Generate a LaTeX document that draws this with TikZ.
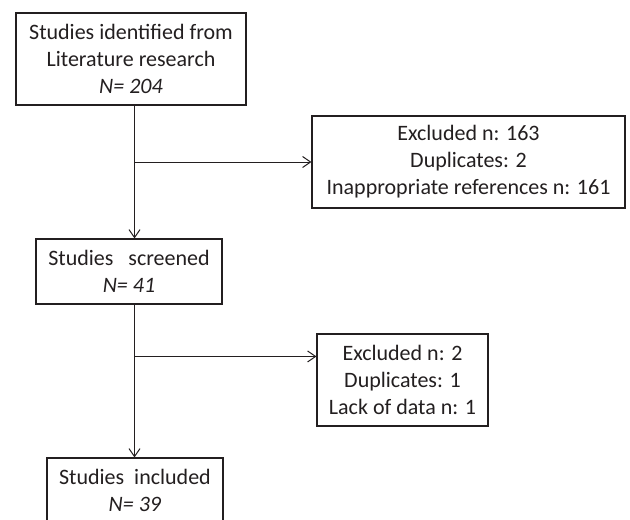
\documentclass[tikz,border=0pt]{standalone}
\usepackage{fontspec}
\setmainfont{Carlito}
\usetikzlibrary{arrows.meta,positioning,calc}
\definecolor{ink}{HTML}{231F20}
\tikzset{
  box/.style={draw=ink,line width=1.1pt,fill=white,align=center,text=ink,font=\fontsize{22}{27}\selectfont,inner sep=0pt},
  flow/.style={-{Straight Barb[length=8pt,width=11pt]},line width=1pt,draw=ink}
}

\begin{document}
\begin{tikzpicture}[x=1pt,y=1pt]
  \clip (0,0) rectangle (630,-520);
  \coordinate (spine) at (134.5,0);
  \node[box,minimum width=230pt,minimum height=92pt] (found) at (131,-59) {Studies identified from\\Literature research\\\textit{N= 204}};
  \node[box,minimum width=313pt,minimum height=92pt] (excl1) at (468.5,-162) {Excluded n: 163\\Duplicates: 2\\Inappropriate references n: 161};
  \node[box,minimum width=186pt,minimum height=65pt] (screen) at (129,-271.5) {Studies\ \ \ screened\\\textit{N= 41}};
  \node[box,minimum width=171pt,minimum height=92pt] (excl2) at (402.5,-380) {Excluded n: 2\\Duplicates: 1\\Lack of data n: 1};
  \node[box,minimum width=176pt,minimum height=65pt] (incl) at (135,-490.5) {Studies\ \ included\\\textit{N= 39}};
  \coordinate (cut2) at ([yshift=-23pt]excl2.north west);
  \draw[flow] (found.south -| spine) -- (screen.north -| spine);
  \draw[flow] (spine |- excl1.west) -- (excl1.west);
  \draw[flow] (screen.south -| spine) -- (incl.north -| spine);
  \draw[flow] (spine |- cut2) -- (cut2);
\end{tikzpicture}
\end{document}
